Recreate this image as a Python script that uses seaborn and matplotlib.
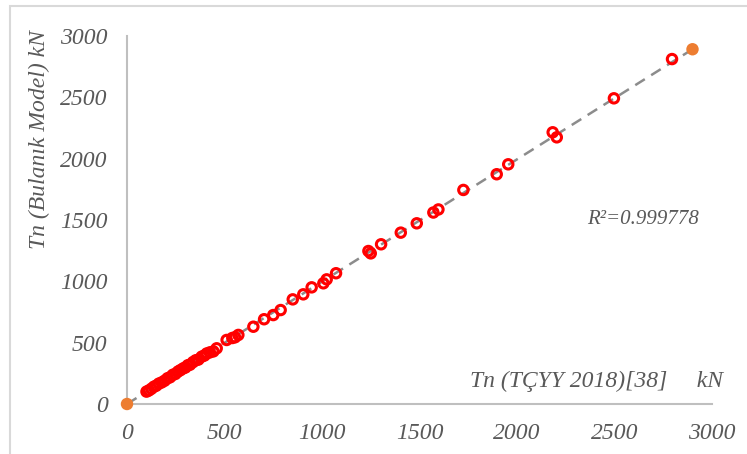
import matplotlib
matplotlib.use("Agg")
import matplotlib.pyplot as plt
import seaborn as sns
import pandas as pd
from matplotlib.patches import Rectangle

# Data
tcyy = [100, 112, 125, 138, 150, 163, 178, 193, 208, 221, 235, 248, 262, 274, 288,
        300, 312, 323, 338, 352, 366, 383, 397, 409, 425, 443, 460, 511, 540, 554,
        571, 648, 703, 750, 788, 850, 904, 947, 1007, 1024, 1072, 1238, 1250, 1303,
        1404, 1486, 1571, 1597, 1725, 1896, 1955, 2183, 2204, 2497, 2795]
bulanik = [101, 110, 124, 141, 149, 166, 176, 190, 210, 218, 238, 245, 265, 276, 290,
           298, 316, 320, 341, 356, 362, 386, 395, 412, 421, 429, 454, 522, 538, 544,
           563, 630, 691, 725, 766, 853, 894, 951, 984, 1016, 1066, 1247, 1228, 1302,
           1397, 1473, 1561, 1586, 1745, 1873, 1954, 2215, 2174, 2492, 2812]
ref_x = [0, 2900]
ref_y = [0, 2892]
xticks = [0, 500, 1000, 1500, 2000, 2500, 3000]
yticks = [0, 500, 1000, 1500, 2000, 2500, 3000]
r2_text = "R²=0.999778"
xlabel = "Tn (TÇYY 2018)[38]     kN"
ylabel = "Tn (Bulanık Model) kN"

sns.set_theme(style="white")
plt.rcParams['font.family'] = ['Liberation Serif', 'DejaVu Serif']

W, H = 747, 454
fig = plt.figure(figsize=(W / 100, H / 100), dpi=100)
ax = fig.add_axes([127 / W, 1 - 404 / H, (712 - 127) / W, (404 - 36) / H])

df = pd.DataFrame({"x": tcyy, "y": bulanik})
ref = pd.DataFrame({"x": ref_x, "y": ref_y})

sns.lineplot(data=ref, x="x", y="y", ax=ax, color="#8C8C8C", linewidth=1.8,
             dashes=False, linestyle=(0, (4.5, 3)), zorder=1)
sns.scatterplot(data=df, x="x", y="y", ax=ax, marker="o", s=46,
                facecolor="none", edgecolor="#FF0000", linewidth=2.2, zorder=3)
sns.scatterplot(data=ref, x="x", y="y", ax=ax, marker="o", s=80,
                color="#ED7D31", edgecolor="none", zorder=4, clip_on=False)

ax.set_xlim(0, 3000)
ax.set_ylim(0, 3000)
ax.set_xticks(xticks)
ax.set_yticks(yticks)
ax.set_xticklabels([str(t) for t in xticks])
ax.set_yticklabels([str(t) for t in yticks])
ax.set_xlabel("")
ax.set_ylabel("")
for lab in ax.get_xticklabels() + ax.get_yticklabels():
    lab.set_fontstyle("italic")
    lab.set_fontsize(17)
    lab.set_color("#595959")
ax.tick_params(axis="both", length=0)
ax.tick_params(axis="x", pad=14)
ax.tick_params(axis="y", pad=14)

for s in ["top", "right"]:
    ax.spines[s].set_visible(False)
for s in ["left", "bottom"]:
    ax.spines[s].set_color("#BFBFBF")
    ax.spines[s].set_linewidth(1.5)

fig.text(587 / W, 1 - 220 / H, r2_text, ha="left", va="center", fontsize=15,
         style="italic", color="#595959")
fig.text(723 / W, 1 - 387 / H, xlabel, ha="right", va="baseline", fontsize=17,
         style="italic", color="#595959")
fig.text(39 / W, 1 - 140 / H, ylabel, ha="center", va="center", fontsize=17,
         style="italic", color="#595959", rotation=90)

fig.patches.append(Rectangle((10 / W, -0.2), 1.2, 1.2 - 6 / H, transform=fig.transFigure,
                             fill=False, edgecolor="#D9D9D9", linewidth=1.5))

fig.savefig("out.png", dpi=100)
